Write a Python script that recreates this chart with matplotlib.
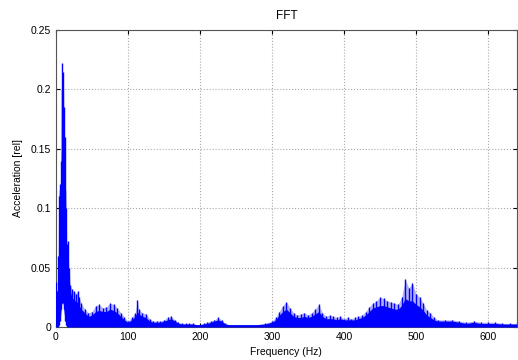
import matplotlib
matplotlib.use("Agg")
import matplotlib.pyplot as plt

freq = [0, 1, 2, 3, 4, 5, 6, 7, 8, 9, 10, 11, 12, 13, 14, 15, 16, 18, 20, 22, 25, 28, 30, 32, 35,
        40, 45, 50, 55, 60, 65, 70, 75, 80, 85, 90, 95, 100, 105, 110, 113, 115, 120, 125, 130,
        135, 140, 145, 150, 155, 160, 165, 170, 175, 180, 185, 190, 195, 200, 205, 210, 215, 220,
        225, 230, 235, 240, 250, 260, 270, 280, 290, 300, 305, 310, 315, 320, 325, 330, 335, 340,
        345, 350, 355, 360, 365, 370, 375, 380, 385, 390, 395, 400, 405, 410, 415, 420, 425, 430,
        435, 440, 445, 450, 455, 460, 465, 470, 475, 480, 485, 490, 495, 500, 505, 510, 515, 520,
        525, 530, 540, 550, 560, 570, 580, 590, 600, 610, 620, 630, 640]
peak = [0.038, 0.030, 0.015, 0.060, 0.110, 0.115, 0.120, 0.140, 0.222, 0.200, 0.215, 0.185, 0.160,
        0.115, 0.100, 0.070, 0.072, 0.050, 0.035, 0.032, 0.030, 0.028, 0.030, 0.025, 0.020,
        0.015, 0.012, 0.013, 0.018, 0.019, 0.016, 0.017, 0.020, 0.019, 0.016, 0.012, 0.008, 0.005,
        0.008, 0.012, 0.023, 0.015, 0.012, 0.011, 0.007,
        0.005, 0.005, 0.005, 0.006, 0.008, 0.009, 0.006, 0.004, 0.003, 0.003, 0.003, 0.003, 0.002,
        0.002, 0.003, 0.004, 0.005, 0.006,
        0.008, 0.006, 0.003, 0.002, 0.002, 0.002, 0.002, 0.002, 0.003, 0.005, 0.008, 0.013, 0.018,
        0.021, 0.016, 0.012, 0.010, 0.011,
        0.012, 0.010, 0.012, 0.015, 0.019, 0.012, 0.009, 0.010, 0.009, 0.008, 0.009, 0.007, 0.008,
        0.007, 0.008, 0.009, 0.010, 0.013,
        0.017, 0.020, 0.022, 0.025, 0.024, 0.022, 0.021, 0.020, 0.019, 0.025, 0.040, 0.033, 0.037,
        0.028, 0.025, 0.020, 0.014, 0.012,
        0.008, 0.006, 0.006, 0.006, 0.005, 0.004, 0.005, 0.004, 0.004, 0.004, 0.003, 0.003, 0.003]
body = [0.025, 0.022, 0.012, 0.045, 0.080, 0.100, 0.110, 0.125, 0.170, 0.180, 0.170, 0.150, 0.130,
        0.100, 0.080, 0.058, 0.052, 0.040, 0.030, 0.025, 0.023, 0.021, 0.021, 0.018, 0.015,
        0.012, 0.009, 0.010, 0.013, 0.014, 0.013, 0.013, 0.015, 0.014, 0.012, 0.009, 0.006, 0.004,
        0.006, 0.009, 0.013, 0.011, 0.009, 0.008, 0.005,
        0.004, 0.004, 0.004, 0.005, 0.006, 0.007, 0.005, 0.003, 0.0025, 0.0025, 0.0025, 0.0025, 0.002,
        0.002, 0.0025, 0.003, 0.004, 0.005,
        0.006, 0.005, 0.0025, 0.002, 0.002, 0.002, 0.002, 0.002, 0.0025, 0.004, 0.006, 0.010, 0.013,
        0.015, 0.012, 0.009, 0.008, 0.008,
        0.009, 0.008, 0.009, 0.011, 0.013, 0.009, 0.007, 0.007, 0.007, 0.006, 0.007, 0.006, 0.006,
        0.006, 0.006, 0.007, 0.008, 0.010,
        0.013, 0.016, 0.017, 0.018, 0.018, 0.017, 0.016, 0.015, 0.015, 0.018, 0.024, 0.022, 0.022,
        0.019, 0.017, 0.014, 0.010, 0.008,
        0.006, 0.005, 0.005, 0.005, 0.004, 0.003, 0.004, 0.003, 0.003, 0.003, 0.0025, 0.0025, 0.0025]
floor = [0, 0, 0, 0, 0.002, 0.005, 0.010, 0.015, 0.020, 0.022, 0.020, 0.015, 0.010,
         0.005, 0.002] + [0] * (len(freq) - 15)

xticks = [0, 100, 200, 300, 400, 500, 600]
yticks = [0, 0.05, 0.1, 0.15, 0.2, 0.25]
yticklabels = ["0", "0.05", "0.1", "0.15", "0.2", "0.25"]

plt.rcParams['font.family'] = ['Liberation Sans', 'DejaVu Sans']
fig = plt.figure(figsize=(5.18, 3.6), dpi=100)
ax = fig.add_axes([0.1081, 0.0917, 0.8896, 0.825])

ax.fill_between(freq, floor, peak, color=(0.45, 0.45, 0.9), alpha=0.55, lw=0, zorder=2)
ax.fill_between(freq, floor, body, color=(0, 0, 1), lw=0, zorder=3)
ax.vlines(freq, floor, peak, color=(0, 0, 1), lw=1.0, zorder=4)

ax.set_xlim(0, 640)
ax.set_ylim(0, 0.25)
ax.set_xticks(xticks)
ax.set_yticks(yticks)
ax.set_yticklabels(yticklabels)
ax.tick_params(direction='in', labelsize=7.5, length=3, top=True, right=True)
ax.grid(True, linestyle=':', color='#aaaaaa', lw=0.8)
ax.set_axisbelow(True)
for s in ax.spines.values():
    s.set_color('#555555')
    s.set_linewidth(0.8)

ax.set_title("FFT", fontsize=8.5, pad=8)
ax.set_xlabel("Frequency (Hz)", fontsize=7.5, labelpad=4)
ax.set_ylabel("Acceleration [rel]", fontsize=7.5, labelpad=6)

fig.savefig("out.png", dpi=100)
